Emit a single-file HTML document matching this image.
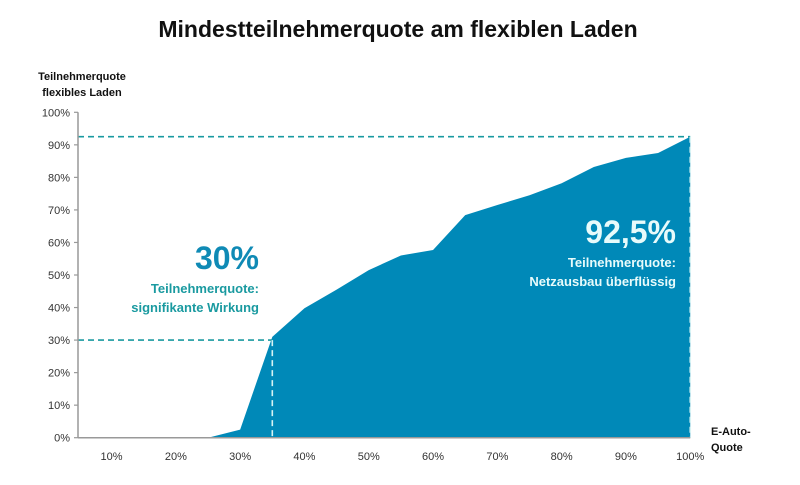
<!DOCTYPE html>
<html><head><meta charset="utf-8"><style>
body{margin:0;background:#fff;width:800px;height:480px;overflow:hidden;font-family:"Liberation Sans",sans-serif}
text{font-family:"Liberation Sans",sans-serif}
</style></head><body>
<svg id="chart" width="800" height="480" viewBox="0 0 800 480">
<text x="398" y="37" text-anchor="middle" font-size="23" font-weight="bold" fill="#111">Mindestteilnehmerquote am flexiblen Laden</text>
<text x="82" y="80" text-anchor="middle" font-size="11" font-weight="bold" fill="#111">Teilnehmerquote</text>
<text x="82" y="96" text-anchor="middle" font-size="11" font-weight="bold" fill="#111">flexibles Laden</text>
<text x="711" y="435" font-size="11" font-weight="bold" fill="#111">E-Auto-</text>
<text x="711" y="451" font-size="11" font-weight="bold" fill="#111">Quote</text>
<g id="plot"></g>
</svg>
<script>
const xValues=[25,30,35,40,45,50,55,60,65,70,75,80,85,90,95,100];
const yValues=[0,2.5,31,39.8,45.5,51.5,56,57.7,68.4,71.5,74.5,78.2,83.2,86,87.5,92.5];
const yTicks=[0,10,20,30,40,50,60,70,80,90,100];
const xTicks=[10,20,30,40,50,60,70,80,90,100];
const markers=[[35,30],[100,92.5]];
const NS="http://www.w3.org/2000/svg";
const X=v=>272.3+(v-35)*6.43;
const Y=v=>437.7-v*3.254;
const g=document.getElementById('plot');
function mk(t,a){const e=document.createElementNS(NS,t);for(const k in a)e.setAttribute(k,a[k]);g.appendChild(e);return e;}
let d='M'+X(xValues[0])+','+Y(0);
xValues.forEach((x,i)=>{d+=' L'+X(x)+','+Y(yValues[i]);});
d+=' L'+X(xValues[xValues.length-1])+','+Y(0)+' Z';
const area=mk('path',{d:d,fill:'#0089b8'});


// dashed markers
markers.forEach((m,i)=>{
  const h=mk('line',{x1:78,x2:X(m[0]),y1:Y(m[1]),y2:Y(m[1]),stroke:'#1a9aa0','stroke-width':1.6,'stroke-dasharray':'6,4'});
  
  
  const v=mk('line',{x1:X(m[0]),x2:X(m[0]),y1:Y(m[1]),y2:Y(0),stroke:i==0?'#d8f4f4':'#d8f4f4','stroke-width':1.6,'stroke-dasharray':'6,4'});
  
  
});
// axes
const ya=mk('line',{x1:78,x2:78,y1:Y(100),y2:Y(0),stroke:'#999','stroke-width':1.5});


const xa=mk('line',{x1:78,x2:X(100),y1:Y(0),y2:Y(0),stroke:'#999','stroke-width':1.5});


yTicks.forEach(t=>{
  mk('line',{x1:74,x2:78,y1:Y(t),y2:Y(t),stroke:'#999','stroke-width':1.2});
  const tx=mk('text',{x:70,y:Y(t)+4,'text-anchor':'end','font-size':11,fill:'#333'});
  tx.textContent=t+'%';
  
  
});
xTicks.forEach(t=>{
  const tx=mk('text',{x:X(t),y:460,'text-anchor':'middle','font-size':11,fill:'#333'});
  tx.textContent=t+'%';
  
  
});
function lbl(x,y,s,sz,fill,name){const t=mk('text',{x:x,y:y,'text-anchor':'end','font-size':sz,'font-weight':'bold',fill:fill});t.textContent=s;}
lbl(259,269,'30%',32,'#0f8ab5','annotation-30-value');
lbl(259,293,'Teilnehmerquote:',13,'#1a9aa0','annotation-30-line1');
lbl(259,312,'signifikante Wirkung',13,'#1a9aa0','annotation-30-line2');
lbl(676,243,'92,5%',32,'#e8fbfb','annotation-92-value');
lbl(676,267,'Teilnehmerquote:',13,'#e8fbfb','annotation-92-line1');
lbl(676,286,'Netzausbau überflüssig',13,'#e8fbfb','annotation-92-line2');
</script>
</body></html>
